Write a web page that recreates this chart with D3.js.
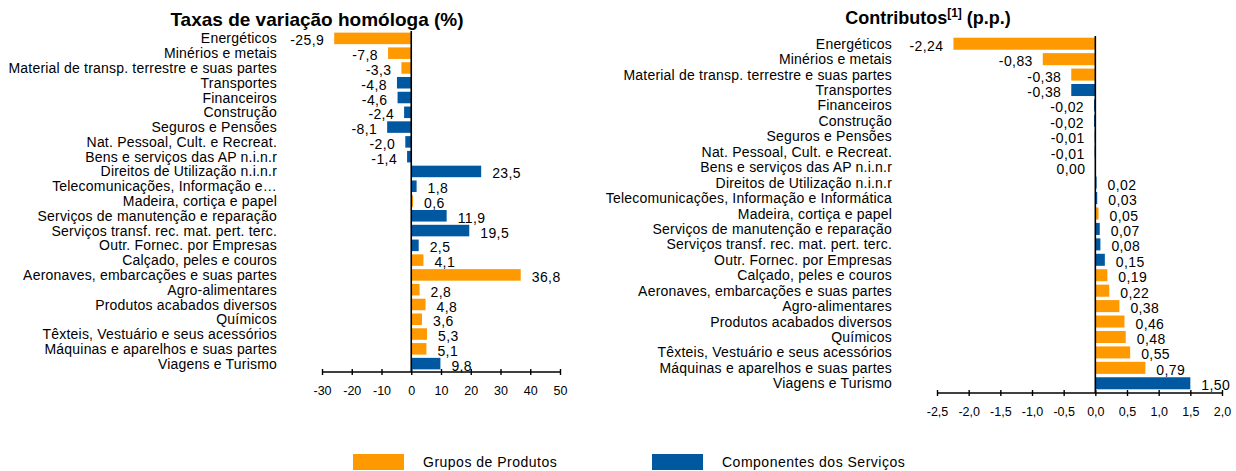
<!DOCTYPE html>
<html>
<head>
<meta charset="utf-8">
<script src="https://cdn.jsdelivr.net/npm/d3@7"></script>
<style>
  body { margin: 0; background: #fff; }
  svg { font-family: "Liberation Sans", Arial, sans-serif; }
</style>
</head>
<body>
<div id="chart"></div>
<script>
// Taxas de variação homóloga (%)
const leftCategories = [
  'Energéticos', 'Minérios e metais', 'Material de transp. terrestre e suas partes',
  'Transportes', 'Financeiros', 'Construção', 'Seguros e Pensões',
  'Nat. Pessoal, Cult. e Recreat.', 'Bens e serviços das AP n.i.n.r',
  'Direitos de Utilização n.i.n.r', 'Telecomunicações, Informação e…',
  'Madeira, cortiça e papel', 'Serviços de manutenção e reparação',
  'Serviços transf. rec. mat. pert. terc.', 'Outr. Fornec. por Empresas',
  'Calçado, peles e couros', 'Aeronaves, embarcações e suas partes',
  'Agro-alimentares', 'Produtos acabados diversos', 'Químicos',
  'Têxteis, Vestuário e seus acessórios', 'Máquinas e aparelhos e suas partes',
  'Viagens e Turismo'
];
const leftValues = [-25.9, -7.8, -3.3, -4.8, -4.6, -2.4, -8.1, -2.0, -1.4, 23.5, 1.8,
  0.6, 11.9, 19.5, 2.5, 4.1, 36.8, 2.8, 4.8, 3.6, 5.3, 5.1, 9.8];
const leftGroups = ['P', 'P', 'P', 'S', 'S', 'S', 'S', 'S', 'S', 'S', 'S',
  'P', 'S', 'S', 'S', 'P', 'P', 'P', 'P', 'P', 'P', 'P', 'S'];
const leftTicks = [-30, -20, -10, 0, 10, 20, 30, 40, 50];

// Contributos (p.p.)
const rightCategories = [
  'Energéticos', 'Minérios e metais', 'Material de transp. terrestre e suas partes',
  'Transportes', 'Financeiros', 'Construção', 'Seguros e Pensões',
  'Nat. Pessoal, Cult. e Recreat.', 'Bens e serviços das AP n.i.n.r',
  'Direitos de Utilização n.i.n.r', 'Telecomunicações, Informação e Informática',
  'Madeira, cortiça e papel', 'Serviços de manutenção e reparação',
  'Serviços transf. rec. mat. pert. terc.', 'Outr. Fornec. por Empresas',
  'Calçado, peles e couros', 'Aeronaves, embarcações e suas partes',
  'Agro-alimentares', 'Produtos acabados diversos', 'Químicos',
  'Têxteis, Vestuário e seus acessórios', 'Máquinas e aparelhos e suas partes',
  'Viagens e Turismo'
];
const rightValues = [-2.24, -0.83, -0.38, -0.38, -0.02, -0.02, -0.01, -0.01, 0.00, 0.02, 0.03,
  0.05, 0.07, 0.08, 0.15, 0.19, 0.22, 0.38, 0.46, 0.48, 0.55, 0.79, 1.50];
const rightGroups = ['P', 'P', 'P', 'S', 'S', 'S', 'S', 'S', 'S', 'S', 'S',
  'P', 'S', 'S', 'S', 'P', 'P', 'P', 'P', 'P', 'P', 'P', 'S'];
const rightTicks = [-2.5, -2.0, -1.5, -1.0, -0.5, 0.0, 0.5, 1.0, 1.5, 2.0];

const legendLabels = ['Grupos de Produtos', 'Componentes dos Serviços'];
const colors = { P: '#ff9900', S: '#0058a0' };

// portuguese decimal comma, plain hyphen for minus
const pt = d3.formatLocale({ decimal: ',', thousands: '.', grouping: [3], currency: ['', '€'], minus: '-' });

const svg = d3.select('#chart')
  .append('svg')
  .attr('width', 1236)
  .attr('height', 471);

function drawPanel(opts) {
  const data = opts.categories.map((c, i) => ({ c, v: opts.values[i], g: opts.groups[i] }));

  const x = d3.scaleLinear().domain(opts.domain).range(opts.xRange);
  const y = d3.scaleBand()
    .domain(opts.categories)
    .range(opts.yRange)
    .paddingInner(0.22)
    .paddingOuter(0.11);

  const g = svg.append('g');

  g.selectAll('rect.bar')
    .data(data)
    .enter()
    .append('rect')
    .attr('class', 'bar')
    .attr('x', d => x(Math.min(0, d.v)))
    .attr('y', d => y(d.c))
    .attr('width', d => Math.abs(x(d.v) - x(0)))
    .attr('height', y.bandwidth())
    .attr('fill', d => colors[d.g]);

  // category labels
  g.selectAll('text.cat')
    .data(data)
    .enter()
    .append('text')
    .attr('class', 'cat')
    .attr('x', opts.labelX)
    .attr('y', d => y(d.c) + y.bandwidth() / 2)
    .attr('dy', '0.36em')
    .attr('text-anchor', 'end')
    .style('font-size', '14px')
    .style('letter-spacing', '0.2px')
    .attr('fill', '#000')
    .text(d => d.c);

  // value labels
  g.selectAll('text.val')
    .data(data)
    .enter()
    .append('text')
    .attr('class', 'val')
    .attr('x', d => d.v > 0 ? x(d.v) + 11 : x(Math.min(0, d.v)) - 10)
    .attr('y', d => y(d.c) + y.bandwidth() / 2 + 2)
    .attr('dy', '0.36em')
    .attr('text-anchor', d => d.v > 0 ? 'start' : 'end')
    .style('font-size', '14px')
    .style('letter-spacing', '0.4px')
    .attr('fill', '#000')
    .text(d => opts.fmt(d.v));

  // zero line
  g.append('line')
    .attr('x1', x(0)).attr('x2', x(0))
    .attr('y1', opts.yRange[0]).attr('y2', opts.axisY)
    .attr('stroke', '#000')
    .attr('stroke-width', 1.6);

  // axis
  const axis = g.append('g')
    .attr('transform', `translate(0, ${opts.axisY})`)
    .call(d3.axisBottom(x).tickValues(opts.ticks).tickFormat(opts.tickFmt).tickSize(3).tickPadding(11));
  axis.select('.domain').attr('stroke', '#000').attr('stroke-width', 1.6).attr('d', `M${opts.xRange[0]},0H${opts.xRange[1]}`);
  axis.selectAll('.tick line').attr('y1', -3).attr('y2', 3).attr('stroke', '#000').attr('stroke-width', 1.4);
  axis.selectAll('.tick text')
    .style('font-family', '"Liberation Sans Narrow", "Liberation Sans", Arial, sans-serif')
    .style('font-size', '12.5px')
    .attr('fill', '#000');

  return g;
}

drawPanel({
  categories: leftCategories, values: leftValues, groups: leftGroups, ticks: leftTicks,
  domain: [-30, 50], xRange: [322, 560], yRange: [31, 371], axisY: 372, labelX: 277,
  fmt: pt.format('.1f'), tickFmt: pt.format('d')
});

drawPanel({
  categories: rightCategories, values: rightValues, groups: rightGroups, ticks: rightTicks,
  domain: [-2.5, 2.0], xRange: [937, 1222], yRange: [36, 391], axisY: 393, labelX: 892,
  fmt: pt.format('.2f'), tickFmt: pt.format('.1f')
});

// titles
svg.append('text')
  .attr('x', 317).attr('y', 26)
  .attr('text-anchor', 'middle')
  .style('font-size', '19px').style('font-weight', 'bold')
  .text('Taxas de variação homóloga (%)');

const t2 = svg.append('text')
  .attr('x', 928).attr('y', 24)
  .attr('text-anchor', 'middle')
  .style('font-size', '18px').style('font-weight', 'bold');
t2.append('tspan').text('Contributos');
t2.append('tspan').attr('dy', -7).style('font-size', '12px').text('[1]');
t2.append('tspan').attr('dy', 7).text(' (p.p.)');

// legend
const legend = svg.append('g');
const legendX = [353, 652];
legendLabels.forEach((lab, i) => {
  legend.append('rect')
    .attr('x', legendX[i]).attr('y', 454)
    .attr('width', 51).attr('height', 16)
    .attr('fill', colors[i === 0 ? 'P' : 'S']);
  legend.append('text')
    .attr('x', legendX[i] + 70).attr('y', 462)
    .attr('dy', '0.36em')
    .style('font-size', '14px')
    .style('letter-spacing', '0.5px')
    .text(lab);
});
</script>
</body>
</html>
